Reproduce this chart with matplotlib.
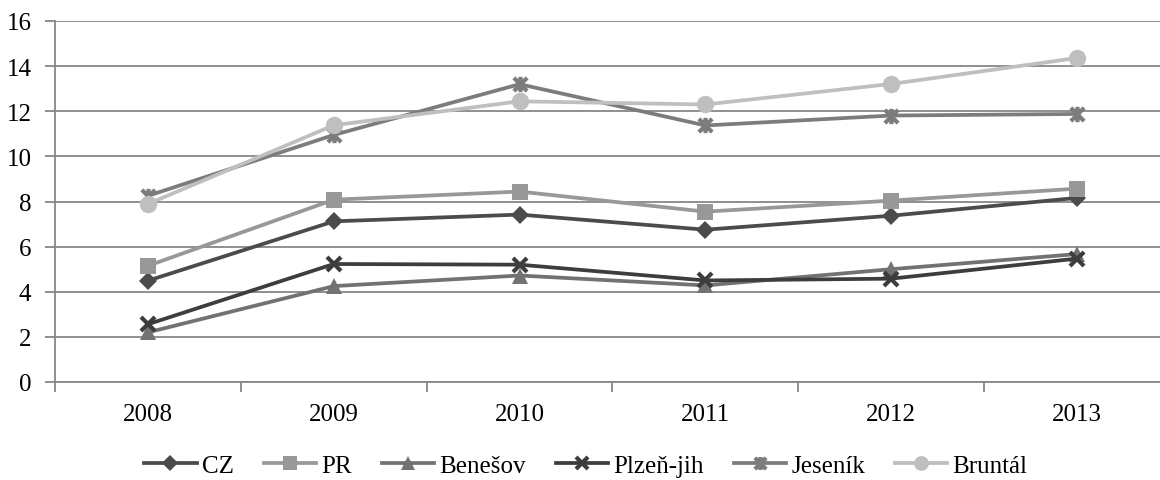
import matplotlib
matplotlib.use("Agg")
import matplotlib.pyplot as plt
from matplotlib.path import Path
from matplotlib.ticker import FixedLocator, NullFormatter

plt.rcParams['font.family'] = ['Liberation Serif', 'DejaVu Serif']

years = ['2008', '2009', '2010', '2011', '2012', '2013']

cz = [4.49, 7.12, 7.42, 6.75, 7.37, 8.16]
pr = [5.15, 8.08, 8.44, 7.55, 8.04, 8.57]
benesov = [2.20, 4.25, 4.72, 4.28, 5.00, 5.67]
plzen_jih = [2.56, 5.23, 5.20, 4.50, 4.58, 5.47]
jesenik = [8.25, 10.95, 13.20, 11.37, 11.81, 11.88]
bruntal = [7.89, 11.38, 12.44, 12.30, 13.21, 14.36]

series_names = ['CZ', 'PR', 'Benešov', 'Plzeň-jih', 'Jeseník', 'Bruntál']

# asterisk-like marker: an X crossed by a vertical stroke
star_marker = Path(
    [(-1, -1), (1, 1), (-1, 1), (1, -1), (0, -1.15), (0, 1.15)],
    [Path.MOVETO, Path.LINETO, Path.MOVETO, Path.LINETO, Path.MOVETO, Path.LINETO],
)

styles = [
    dict(color='#4b4b4b', marker='D', ms=9.5, mew=0),
    dict(color='#989898', marker='s', ms=11.5, mew=0),
    dict(color='#727272', marker='^', ms=11.5, mew=0),
    dict(color='#3d3d3d', marker='x', ms=10.5, mew=3),
    dict(color='#7c7c7c', marker=star_marker, ms=11, mew=3),
    dict(color='#bfbfbf', marker='o', ms=12.5, mew=0),
]

data = [cz, pr, benesov, plzen_jih, jesenik, bruntal]

fig = plt.figure(figsize=(11.6, 4.81), dpi=100)
ax = fig.add_axes([55 / 1160, 98 / 481, 1115 / 1160, 361 / 481])

x = list(range(len(years)))
for name, vals, st in zip(series_names, data, styles):
    ax.plot(x, vals, color=st['color'], lw=2.7, marker=st['marker'],
            markersize=st['ms'], markeredgewidth=st['mew'],
            markeredgecolor=st['color'], markerfacecolor=st['color'],
            solid_joinstyle='round', label=name, clip_on=False)

grid_color = '#878787'
ax.set_xlim(-0.5, len(years) - 0.5)
ax.set_ylim(0, 16)
ax.set_yticks(range(0, 17, 2))
ax.yaxis.grid(True, color=grid_color, lw=1.3)
ax.set_axisbelow(True)

ax.set_xticks(x)
ax.set_xticklabels(years)
ax.xaxis.set_minor_locator(FixedLocator([i + 0.5 for i in range(-1, len(years))]))
ax.xaxis.set_minor_formatter(NullFormatter())
ax.tick_params(axis='x', which='major', length=0, pad=15, labelsize=18)
ax.tick_params(axis='x', which='minor', length=7, width=1.3, color=grid_color)
ax.tick_params(axis='y', which='major', length=7, width=1.3, color=grid_color,
               pad=10, labelsize=18)

for side in ('top', 'right'):
    ax.spines[side].set_visible(False)
for side in ('left', 'bottom'):
    ax.spines[side].set_color(grid_color)
    ax.spines[side].set_linewidth(1.3)

fig.legend(loc='center', bbox_to_anchor=(0.505, 0.03), ncol=6, frameon=False,
           fontsize=18, handlelength=2.1, handletextpad=0.2, columnspacing=1.2,
           borderaxespad=0, markerscale=0.85)

fig.savefig('out.png', dpi=100)
